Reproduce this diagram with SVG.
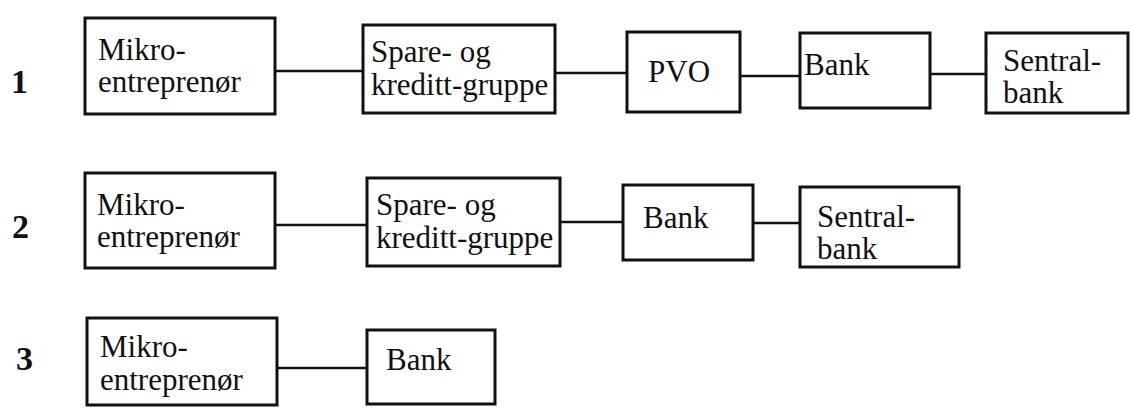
<svg xmlns="http://www.w3.org/2000/svg" width="1131" height="408" viewBox="0 0 1131 408">
  <style>
    .box { fill: #fff; stroke: #111; stroke-width: 3; }
    .link { stroke: #111; stroke-width: 2.6; fill: none; }
    text { font-family: "Liberation Serif", Tinos, "DejaVu Serif", serif; fill: #111; }
    .t { font-size: 31px; }
    .num { font-size: 34px; font-weight: bold; }
  </style>
  <rect width="1131" height="408" fill="#fff"/>

  <!-- row numbers -->
  <g id="row-labels">
    <text class="num" x="11" y="93">1</text>
    <text class="num" x="12" y="238">2</text>
    <text class="num" x="16" y="370">3</text>
  </g>

  <!-- connectors -->
  <g id="connectors">
    <line class="link" x1="275" y1="71" x2="363" y2="71"/>
    <line class="link" x1="555" y1="73" x2="627" y2="73"/>
    <line class="link" x1="740" y1="76" x2="800" y2="76"/>
    <line class="link" x1="930" y1="74" x2="986" y2="74"/>

    <line class="link" x1="275" y1="225" x2="367" y2="225"/>
    <line class="link" x1="560" y1="222" x2="623" y2="222"/>
    <line class="link" x1="753" y1="223" x2="800" y2="223"/>

    <line class="link" x1="277" y1="368" x2="367" y2="368"/>
  </g>

  <!-- row 1 -->
  <g id="r1-mikro">
    <rect class="box" x="85" y="18" width="190" height="96"/>
    <text class="t" x="98" y="60">Mikro-</text>
    <text class="t" x="98" y="92">entreprenør</text>
  </g>
  <g id="r1-spare">
    <rect class="box" x="363" y="25" width="192" height="88"/>
    <text class="t" x="371" y="62">Spare- og</text>
    <text class="t" x="371" y="95">kreditt-gruppe</text>
  </g>
  <g id="r1-pvo">
    <rect class="box" x="627" y="32" width="113" height="80"/>
    <text class="t" x="648" y="82">PVO</text>
  </g>
  <g id="r1-bank">
    <rect class="box" x="800" y="33" width="130" height="75"/>
    <text class="t" x="804" y="75">Bank</text>
  </g>
  <g id="r1-sentral">
    <rect class="box" x="986" y="33" width="142" height="80"/>
    <text class="t" x="1003" y="71">Sentral-</text>
    <text class="t" x="1003" y="103">bank</text>
  </g>

  <!-- row 2 -->
  <g id="r2-mikro">
    <rect class="box" x="85" y="173" width="190" height="95"/>
    <text class="t" x="97" y="215">Mikro-</text>
    <text class="t" x="97" y="247">entreprenør</text>
  </g>
  <g id="r2-spare">
    <rect class="box" x="367" y="178" width="193" height="88"/>
    <text class="t" x="376" y="215">Spare- og</text>
    <text class="t" x="376" y="248">kreditt-gruppe</text>
  </g>
  <g id="r2-bank">
    <rect class="box" x="623" y="185" width="130" height="75"/>
    <text class="t" x="643" y="228">Bank</text>
  </g>
  <g id="r2-sentral">
    <rect class="box" x="800" y="187" width="159" height="80"/>
    <text class="t" x="817" y="227">Sentral-</text>
    <text class="t" x="817" y="259">bank</text>
  </g>

  <!-- row 3 -->
  <g id="r3-mikro">
    <rect class="box" x="87" y="318" width="190" height="87"/>
    <text class="t" x="100" y="357">Mikro-</text>
    <text class="t" x="100" y="390">entreprenør</text>
  </g>
  <g id="r3-bank">
    <rect class="box" x="367" y="330" width="128" height="74"/>
    <text class="t" x="386" y="370">Bank</text>
  </g>
</svg>
